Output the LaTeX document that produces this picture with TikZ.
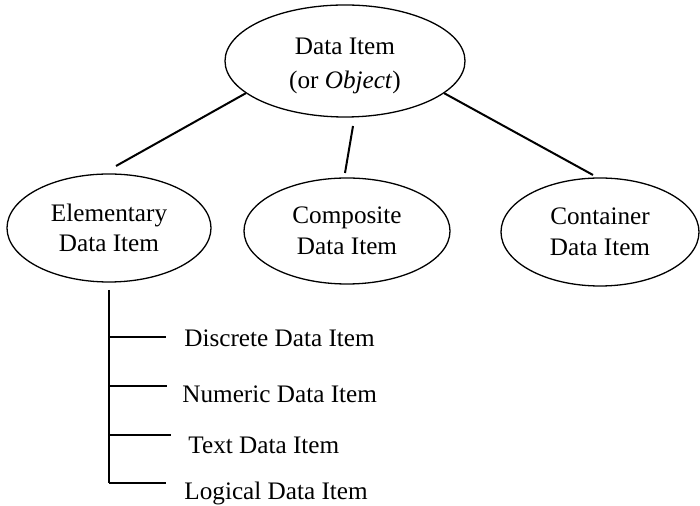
\documentclass[tikz,border=0pt]{standalone}
\usepackage{fontspec}
\setmainfont{Liberation Serif}
\usetikzlibrary{shapes.geometric}
\begin{document}
\begin{tikzpicture}[x=0.5pt,y=-0.5pt,
  item/.style={ellipse,draw,line width=0.65pt,inner sep=0pt,align=center,
    font=\fontsize{12.6}{15.3}\selectfont},
  link/.style={line width=1pt},
  leaf/.style={anchor=base west,inner sep=0pt,font=\fontsize{12.6}{15}\selectfont}]
\useasboundingbox (0,0) rectangle (700,506);

% ellipses
\node[item,minimum width=120pt,minimum height=56pt] (top) at (345,61)
  {\vphantom{X}};
\node[align=center,inner sep=0pt,font=\fontsize{12.6}{16.8}\selectfont]
  (topText) at (345,66) {Data Item\\(or \textit{Object})};
\node[item,minimum width=102pt,minimum height=54pt] (elem) at (109,228)
  {Elementary\\Data Item};
\node[item,minimum width=103pt,minimum height=53pt] (comp) at (347,231)
  {Composite\\Data Item};
\node[item,minimum width=99pt,minimum height=54pt] (cont) at (600,232)
  {Container\\Data Item};

% links from the root to the three kinds
\coordinate (eEnd) at (116,166);
\coordinate (cStart) at (353,126);
\coordinate (cEnd) at (345,173);
\coordinate (kEnd) at (593,175);
\draw[link] (top.198) -- (eEnd);
\draw[link] (cStart) -- (cEnd);
\draw[link] (top.-18) -- (kEnd);

% list of elementary kinds
\node[leaf] (l1) at (184,347) {Discrete Data Item};
\node[leaf] (l2) at (182,403) {Numeric Data Item};
\node[leaf] (l3) at (188,454) {Text Data Item};
\node[leaf] (l4) at (184,500) {Logical Data Item};

\coordinate (tTop) at (109,290);
\coordinate (t1) at (109,337); \coordinate (e1) at (166,337);
\coordinate (t2) at (109,386); \coordinate (e2) at (167,386);
\coordinate (t3) at (109,435); \coordinate (e3) at (171,435);
\coordinate (t4) at (109,483); \coordinate (e4) at (166,483);
\draw[link] (tTop) -- (t4);
\draw[link] (t1) -- (e1);
\draw[link] (t2) -- (e2);
\draw[link] (t3) -- (e3);
\draw[link] (t4) -- (e4);
\end{tikzpicture}
\end{document}
